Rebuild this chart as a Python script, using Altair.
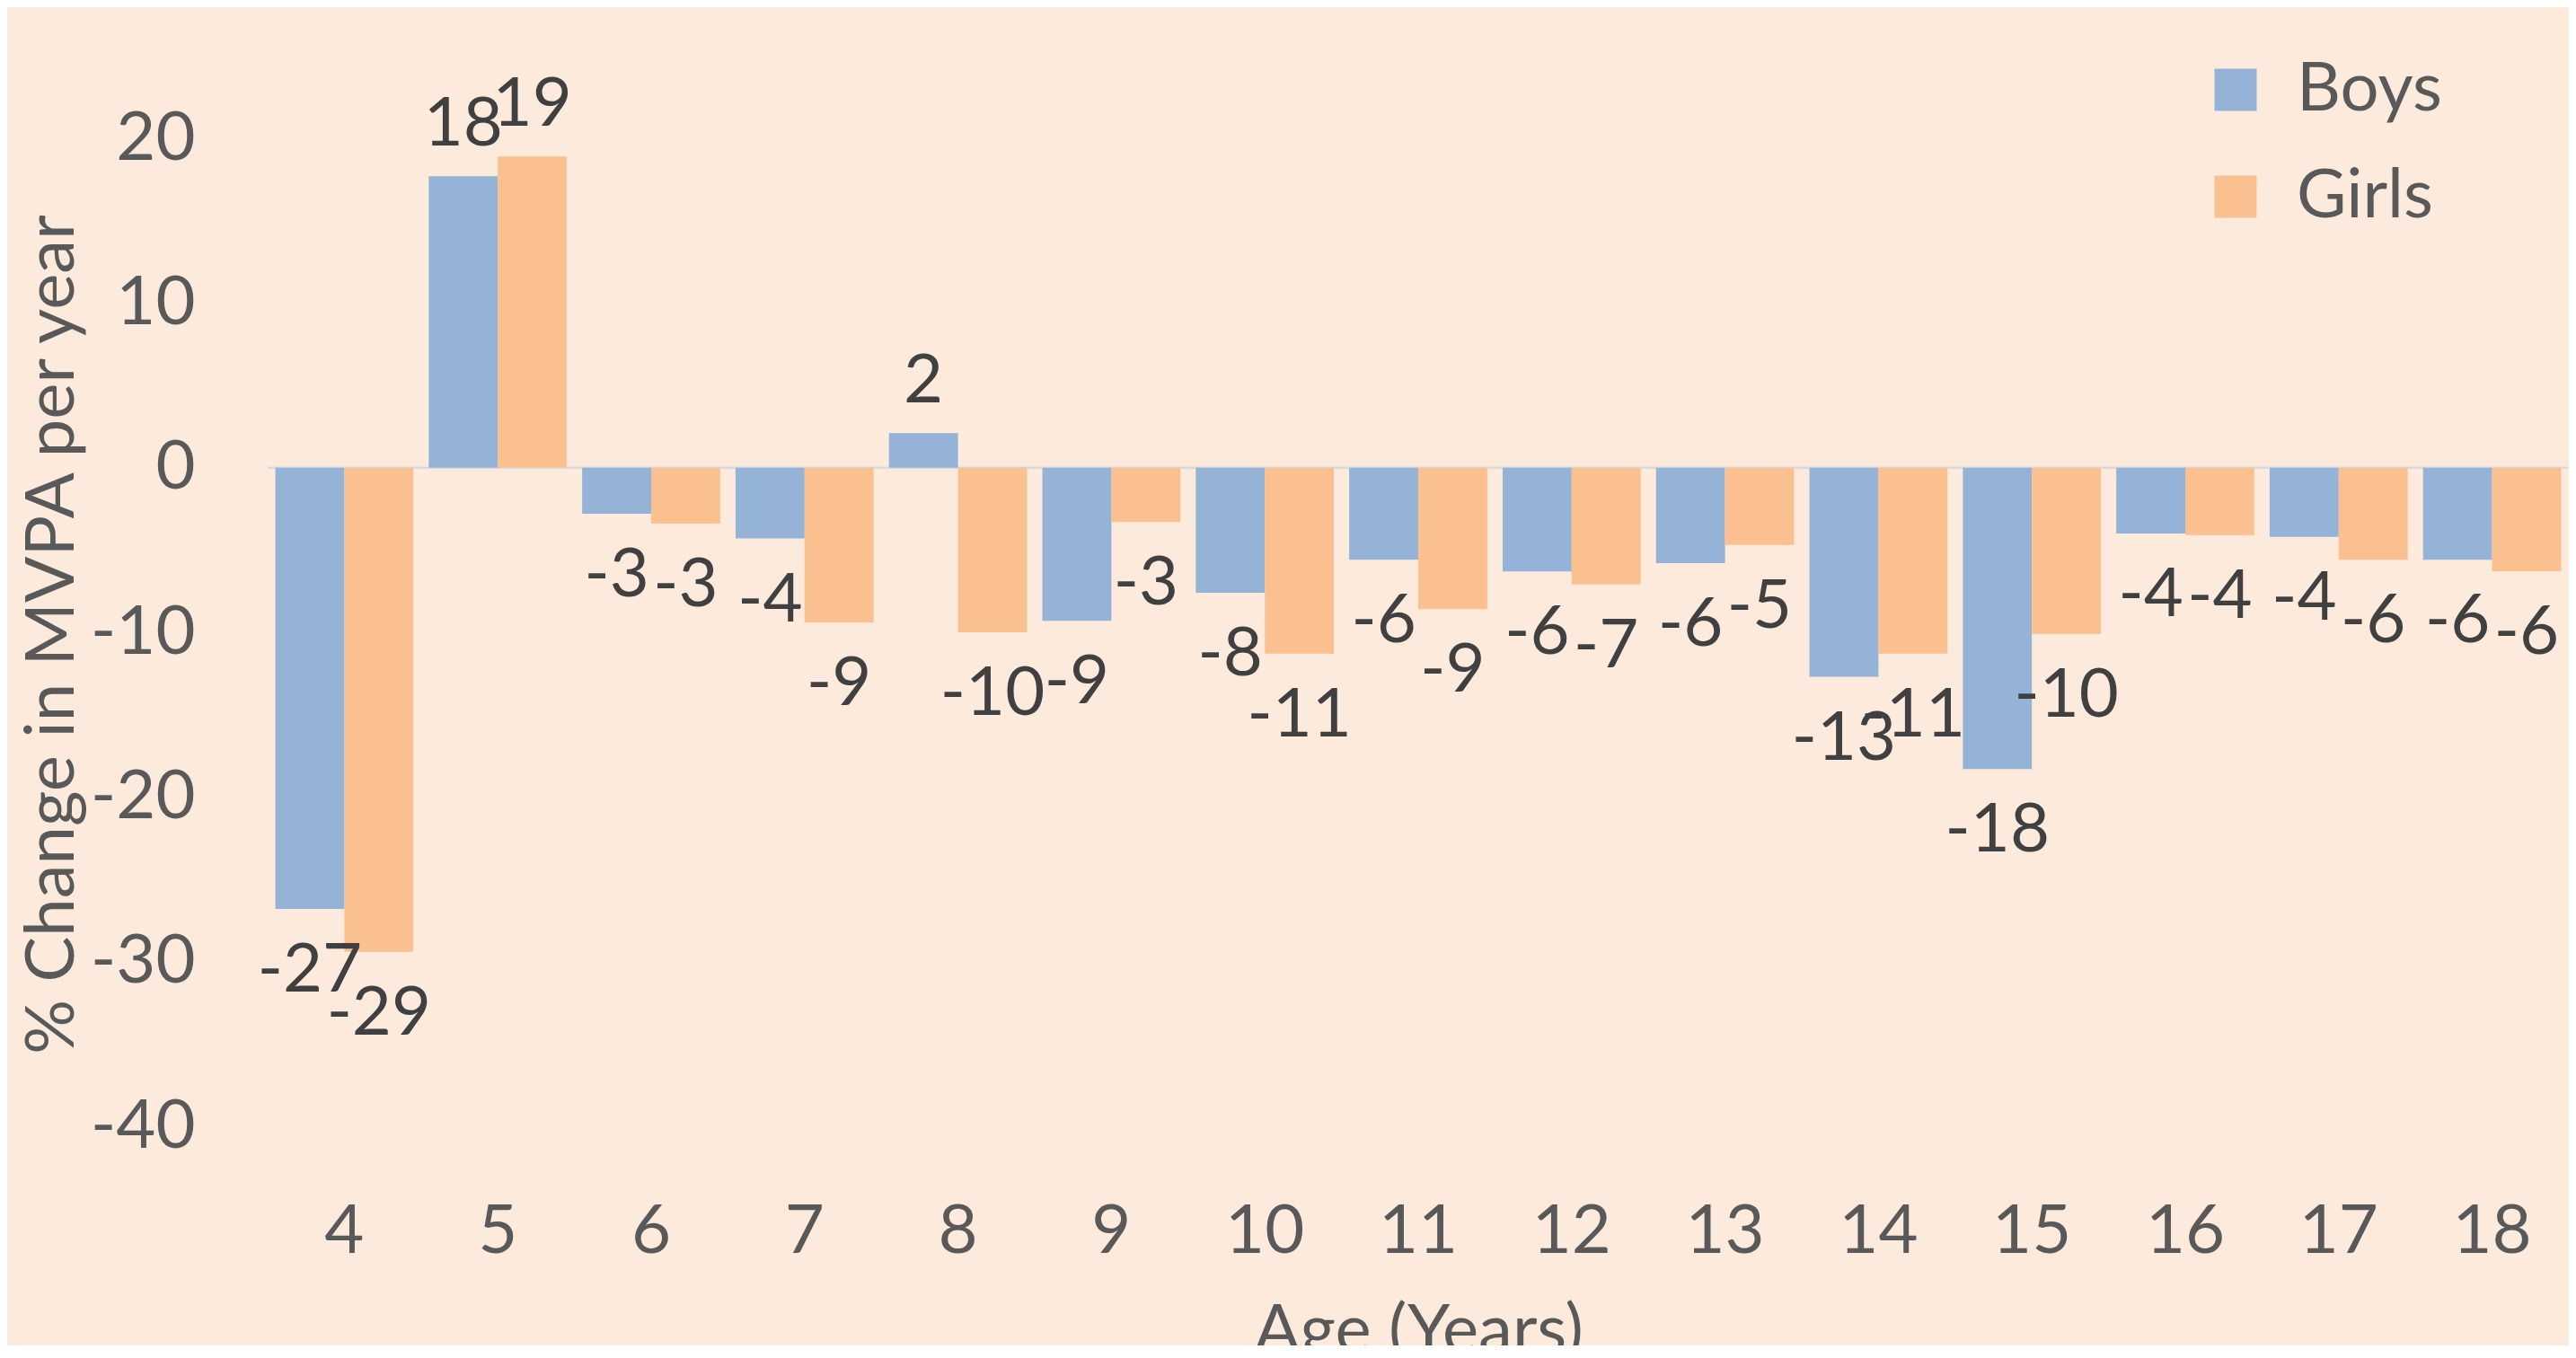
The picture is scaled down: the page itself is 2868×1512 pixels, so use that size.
import altair as alt
import pandas as pd

ages = [4, 5, 6, 7, 8, 9, 10, 11, 12, 13, 14, 15, 16, 17, 18]
boys = [-26.8, 17.7, -2.8, -4.3, 2.1, -9.3, -7.6, -5.6, -6.3, -5.8, -12.7, -18.3, -4.0, -4.2, -5.6]
girls = [-29.4, 18.9, -3.4, -9.4, -10.0, -3.3, -11.3, -8.6, -7.1, -4.7, -11.3, -10.1, -4.1, -5.6, -6.3]
series = ["Boys", "Girls"]
y_ticks = [-40, -30, -20, -10, 0, 10, 20]

rows = []
for a, b, g in zip(ages, boys, girls):
    rows.append({"Age": a, "Sex": "Boys", "Value": b, "Label": str(round(b))})
    rows.append({"Age": a, "Sex": "Girls", "Value": g, "Label": str(round(g))})
df = pd.DataFrame(rows)

FONT = "Lato"
FS = 76
AXIS_COL = "#595959"
LABEL_COL = "#404040"

x = alt.X(
    "Age:O",
    sort=ages,
    scale=alt.Scale(paddingInner=0.1, paddingOuter=0.05),
    axis=alt.Axis(
        title="Age (Years)",
        labelAngle=0,
        labelFont=FONT,
        labelFontSize=FS,
        labelColor=AXIS_COL,
        labelPadding=140,
        labelBaseline="alphabetic",
        ticks=False,
        domain=False,
        titleFont=FONT,
        titleFontSize=FS,
        titleColor=AXIS_COL,
        titleFontWeight="normal",
        titleY=251,
        titleBaseline="alphabetic",
    ),
)
y = alt.Y(
    "Value:Q",
    scale=alt.Scale(domain=[-40, 20], nice=False, zero=False),
    axis=alt.Axis(
        values=y_ticks,
        title="% Change in MVPA per year",
        grid=False,
        domain=False,
        ticks=False,
        labelPadding=81,
        labelFont=FONT,
        labelFontSize=FS,
        labelColor=AXIS_COL,
        labelExpr="'' + datum.value",
        titleFont=FONT,
        titleFontSize=FS,
        titleColor=AXIS_COL,
        titleFontWeight="normal",
        titleX=-240,
        titleY=552,
        titleAlign="center",
        titleBaseline="middle",
    ),
)
xoff = alt.XOffset("Sex:N", sort=series, scale=alt.Scale(paddingInner=0, paddingOuter=0))
color = alt.Color(
    "Sex:N",
    scale=alt.Scale(domain=series, range=["#95B3D7", "#FAC090"]),
    legend=alt.Legend(
        title=None,
        orient="none",
        legendX=2153,
        legendY=-92,
        symbolType="square",
        symbolSize=2209,
        symbolStrokeWidth=0,
        symbolOpacity=1,
        labelFont=FONT,
        labelFontSize=FS,
        labelColor=AXIS_COL,
        labelOffset=30,
        labelLimit=0,
        rowPadding=43,
        padding=0,
    ),
)

base = alt.Chart(df)

zero = alt.Chart(pd.DataFrame({"Value": [0]})).mark_rule(color="#D9D9D9", strokeWidth=2.5).encode(y=y)

bars = base.mark_bar().encode(x=x, xOffset=xoff, y=y, color=color)

pos = base.transform_filter("datum.Value >= 0").mark_text(
    dy=-34, baseline="alphabetic", font=FONT, fontSize=FS, color=LABEL_COL
).encode(x=x, xOffset=xoff, y=y, text="Label:N")

neg = base.transform_filter("datum.Value < 0").mark_text(
    dy=92, baseline="alphabetic", font=FONT, fontSize=FS, color=LABEL_COL
).encode(x=x, xOffset=xoff, y=y, text="Label:N")

chart = (
    alt.layer(zero, bars, pos, neg)
    .properties(
        width=2562,
        height=1100,
        background="#FCEBDC",
        padding={"left": 290, "top": 146, "right": 0, "bottom": 244},
        autosize=alt.AutoSizeParams(type="none"),
    )
    .configure_view(stroke=None)
)

chart.save("out.html", embed_options={"renderer": "svg", "actions": False})
